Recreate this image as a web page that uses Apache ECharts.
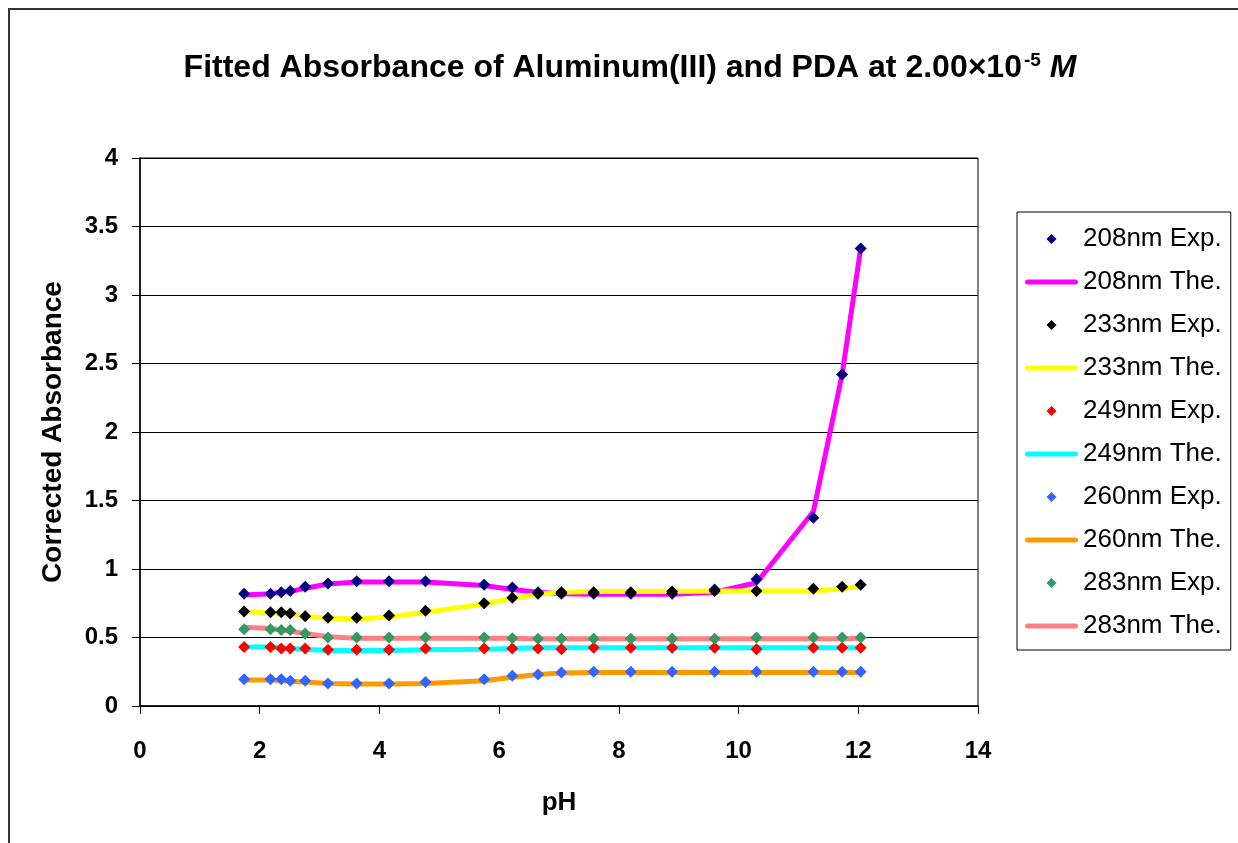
<!DOCTYPE html>
<html>
<head>
<meta charset="utf-8">
<script src="https://cdn.jsdelivr.net/npm/echarts@6/dist/echarts.min.js"></script>
<style>
  html, body { margin: 0; padding: 0; background: #fff; }
  #chart { width: 1238px; height: 843px; }
</style>
</head>
<body>
<div id="chart"></div>
<script>
// pH values of the titration points
const ph = [1.74, 2.18, 2.36, 2.51, 2.76, 3.14, 3.62, 4.16, 4.77, 5.75, 6.22,
            6.65, 7.04, 7.58, 8.20, 8.89, 9.60, 10.30, 11.25, 11.73, 12.04];

// Experimental corrected absorbance at each wavelength
const exp208 = [0.82, 0.82, 0.83, 0.84, 0.87, 0.895, 0.91, 0.91, 0.91, 0.885, 0.865,
                0.83, 0.82, 0.82, 0.82, 0.82, 0.85, 0.925, 1.375, 2.42, 3.34];
const exp233 = [0.69, 0.685, 0.685, 0.675, 0.655, 0.645, 0.645, 0.66, 0.695, 0.75, 0.79,
                0.82, 0.83, 0.83, 0.83, 0.835, 0.84, 0.84, 0.855, 0.87, 0.885];
const exp249 = [0.43, 0.43, 0.42, 0.42, 0.42, 0.41, 0.41, 0.41, 0.42, 0.42, 0.42,
                0.42, 0.415, 0.425, 0.425, 0.425, 0.425, 0.415, 0.425, 0.425, 0.425];
const exp260 = [0.195, 0.195, 0.195, 0.185, 0.185, 0.165, 0.165, 0.165, 0.175, 0.195, 0.22,
                0.23, 0.245, 0.25, 0.25, 0.25, 0.25, 0.25, 0.25, 0.25, 0.25];
const exp283 = [0.56, 0.56, 0.555, 0.555, 0.53, 0.5, 0.5, 0.5, 0.5, 0.5, 0.495,
                0.49, 0.49, 0.49, 0.49, 0.49, 0.49, 0.5, 0.5, 0.5, 0.5];

// Theoretical (fitted) absorbance at each wavelength
const the208 = [0.81, 0.82, 0.83, 0.835, 0.86, 0.89, 0.905, 0.905, 0.905, 0.88, 0.85,
                0.83, 0.82, 0.815, 0.815, 0.815, 0.83, 0.9, 1.42, 2.42, 3.34];
const the233 = [0.69, 0.68, 0.675, 0.67, 0.655, 0.64, 0.635, 0.65, 0.685, 0.745, 0.785,
                0.815, 0.83, 0.835, 0.835, 0.835, 0.84, 0.84, 0.84, 0.855, 0.875];
const the249 = [0.43, 0.43, 0.425, 0.42, 0.415, 0.405, 0.405, 0.405, 0.41, 0.415, 0.42,
                0.425, 0.425, 0.425, 0.425, 0.425, 0.425, 0.425, 0.425, 0.425, 0.425];
const the260 = [0.19, 0.19, 0.185, 0.18, 0.175, 0.165, 0.16, 0.16, 0.165, 0.185, 0.21,
                0.23, 0.24, 0.245, 0.245, 0.245, 0.245, 0.245, 0.245, 0.245, 0.245];
const the283 = [0.575, 0.565, 0.555, 0.545, 0.53, 0.505, 0.495, 0.495, 0.495, 0.495, 0.495,
                0.49, 0.49, 0.49, 0.49, 0.49, 0.49, 0.49, 0.49, 0.49, 0.495];

const wavelengths = ['208nm', '233nm', '249nm', '260nm', '283nm'];
const expSets = [exp208, exp233, exp249, exp260, exp283];
const theSets = [the208, the233, the249, the260, the283];
const expColors = ['#000080', '#000000', '#FF0000', '#3366FF', '#339966'];
const theColors = ['#FF00FF', '#FFFF00', '#00FFFF', '#FF9900', '#FF8080'];

const FONT = '"Liberation Sans", Arial, sans-serif';

// Legend glyphs: a small square-aspect diamond and a thick rounded bar
const DIAMOND_ICON = 'path://M5,0 L10,5 L5,10 L0,5 Z';
const LINE_ICON = 'path://M2.5,0 H50.5 A2.5,2.5 0 0 1 50.5,5 H2.5 A2.5,2.5 0 0 1 2.5,0 Z';

const pairs = vals => ph.map((x, i) => [x, vals[i]]);

const series = [];
const legendData = [];
wavelengths.forEach((w, k) => {
  series.push({
    name: w + ' Exp.',
    type: 'scatter',
    data: pairs(expSets[k]),
    symbol: 'diamond',
    symbolSize: 12,
    itemStyle: { color: expColors[k], opacity: 1 },
    z: 5 + k
  });
  series.push({
    name: w + ' The.',
    type: 'line',
    data: pairs(theSets[k]),
    showSymbol: false,
    symbol: 'none',
    lineStyle: { color: theColors[k], width: 5 },
    itemStyle: { color: theColors[k] },
    z: 2
  });
  legendData.push({ name: w + ' Exp.', icon: DIAMOND_ICON, itemStyle: { color: expColors[k], opacity: 1 } });
  legendData.push({ name: w + ' The.', icon: LINE_ICON, itemStyle: { color: theColors[k] } });
});

const chart = echarts.init(document.getElementById('chart'), null, { renderer: 'canvas' });
chart.setOption({
  backgroundColor: '#ffffff',
  animation: false,
  textStyle: { fontFamily: FONT },
  title: {
    text: '{a|Fitted Absorbance of Aluminum(III) and PDA at 2.00×10}{s|-5}{a| }{i|M}',
    left: 625,
    textAlign: 'center',
    top: 46,
    textStyle: {
      rich: {
        a: { fontFamily: FONT, fontSize: 32, fontWeight: 'bold', color: '#000' },
        s: { fontFamily: FONT, fontSize: 19, fontWeight: 'bold', color: '#000', padding: [0, 0, 16, 2] },
        i: { fontFamily: FONT, fontSize: 32, fontWeight: 'bold', fontStyle: 'italic', color: '#000' }
      }
    }
  },
  graphic: [{
    type: 'rect',
    shape: { x: 9, y: 9, width: 1300, height: 900 },
    style: { fill: 'none', stroke: '#333', lineWidth: 2 },
    silent: true
  }],
  legend: {
    orient: 'vertical',
    left: 1017,
    top: 212,
    padding: [14, 9, 11, 8],
    itemWidth: 53,
    itemHeight: 10,
    itemGap: 17,
    symbolKeepAspect: true,
    borderColor: '#000',
    borderWidth: 1,
    data: legendData,
    textStyle: { fontFamily: FONT, fontSize: 26, color: '#000' }
  },
  grid: {
    left: 140, top: 158, width: 838, height: 548,
    show: true, borderColor: '#000', borderWidth: 1, backgroundColor: '#fff'
  },
  xAxis: {
    type: 'value',
    min: 0, max: 14, interval: 2,
    name: 'pH',
    nameLocation: 'middle',
    nameGap: 84,
    nameTextStyle: { fontFamily: FONT, fontSize: 26, fontWeight: 'bold', color: '#000' },
    axisLine: { show: true, lineStyle: { color: '#000', width: 1.5 } },
    axisTick: { show: true, inside: false, length: 8, lineStyle: { color: '#000' } },
    axisLabel: { margin: 33, fontFamily: FONT, fontSize: 24, fontWeight: 'bold', color: '#000' },
    splitLine: { show: false }
  },
  yAxis: {
    type: 'value',
    min: 0, max: 4, interval: 0.5,
    name: 'Corrected Absorbance',
    nameLocation: 'middle',
    nameGap: 73,
    nameRotate: 90,
    nameTextStyle: { fontFamily: FONT, fontSize: 28, fontWeight: 'bold', color: '#000' },
    axisLine: { show: true, lineStyle: { color: '#000', width: 1.5 } },
    axisTick: { show: true, inside: false, length: 8, lineStyle: { color: '#000' } },
    axisLabel: { margin: 22, fontFamily: FONT, fontSize: 24, fontWeight: 'bold', color: '#000' },
    splitLine: { show: true, lineStyle: { color: '#000', width: 1 } }
  },
  series: series
});
</script>
</body>
</html>
